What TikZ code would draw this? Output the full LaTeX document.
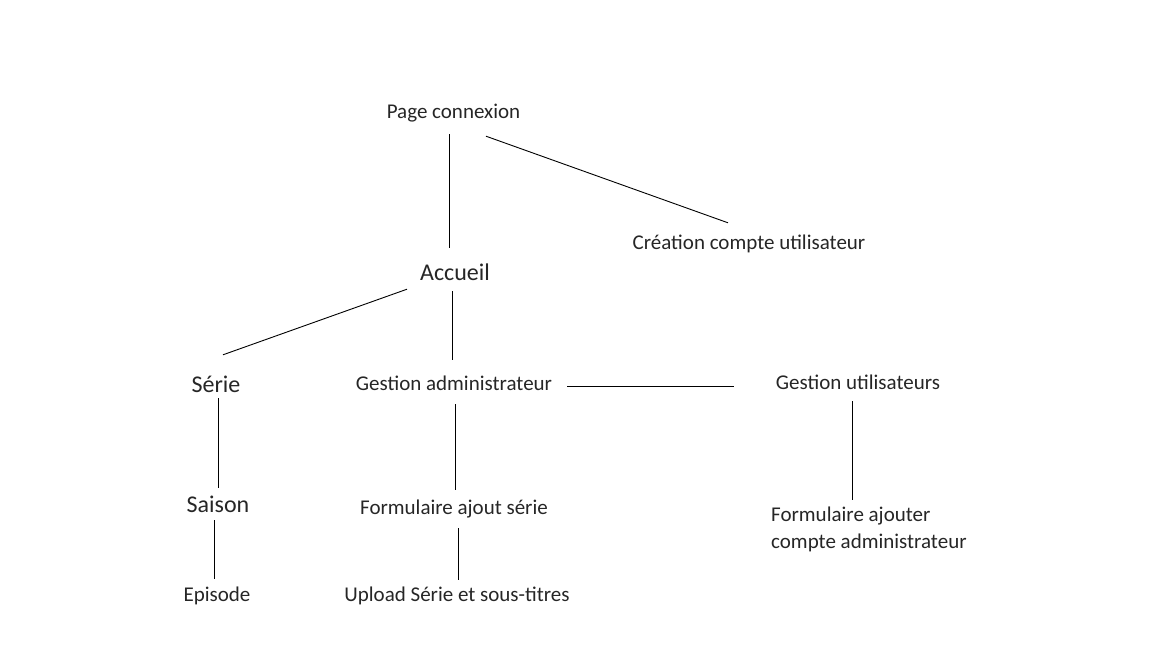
\documentclass[tikz,border=0pt]{standalone}
\usepackage{fontspec}
\setmainfont{Carlito}
\usepackage{tikz}
\usetikzlibrary{positioning,calc}

\tikzset{
    page/.style={inner sep=0pt, text=black!85, font=\fontsize{21}{27}\selectfont, text height=15pt, text depth=5pt},
    bigpage/.style={page, font=\fontsize{24}{29}\selectfont, text height=17pt, text depth=6pt},
    link/.style={line width=0.9pt, black}
}

\begin{document}
\begin{tikzpicture}[x=1pt, y=-1pt]
    \useasboundingbox (0,0) rectangle (1152,648);

    % Top level
    \node[page] (pc) at (453.5,113) {Page connexion};
    \node[page] (cre) at (749,244) {Création compte utilisateur};
    \node[bigpage] (acc) at (455,275) {Accueil};

    % Second level
    \node[bigpage] (ser) at (216,387) {Série};
    \node[page] (gad) at (454,385) {Gestion administrateur};
    \node[page] (gut) at (858,384) {Gestion utilisateurs};

    % Third level
    \node[bigpage] (sai) at (218,507) {Saison};
    \node[page] (fas) at (454,509) {Formulaire ajout série};
    \node[inner sep=0pt, text=black!85, font=\fontsize{21}{27}\selectfont, align=left, anchor=north west] (far) at (771,507) {Formulaire ajouter\\compte administrateur};

    % Bottom level
    \node[page] (epi) at (217,596) {Episode};
    \node[page] (upl) at (457,596) {Upload Série et sous-titres};

    % Links
    \draw[link] ([xshift=-4.5pt,yshift=-11pt]pc.south) -- ([xshift=-6pt,yshift=15.5pt]acc.north);
    \draw[link] ([xshift=32.5pt,yshift=-13pt]pc.south) -- ([xshift=-21pt,yshift=11pt]cre.north);
    \draw[link] ([xshift=-48pt,yshift=-2.5pt]acc.south) -- ([xshift=7pt,yshift=20.5pt]ser.north);
    \draw[link] ([xshift=-3pt,yshift=-4.5pt]acc.south) -- ([xshift=-2pt,yshift=15pt]gad.north);
    \draw[link] ([xshift=15pt,yshift=-1pt]gad.east) -- ([xshift=-42pt,yshift=-2pt]gut.west);
    \draw[link] ([xshift=1pt,yshift=-9pt]gad.south) -- ([xshift=1pt,yshift=9pt]fas.north);
    \draw[link] ([xshift=2pt,yshift=0.5pt]ser.south) -- ([yshift=7.5pt]sai.north);
    \draw[link] ([xshift=-4pt,yshift=-1.5pt]sai.south) -- ([xshift=-3pt,yshift=7pt]epi.north);
    \draw[link] ([xshift=4pt,yshift=-9pt]fas.south) -- ([xshift=1pt,yshift=6pt]upl.north);
    \draw[link] ([xshift=-6pt,yshift=-7pt]gut.south) -- ([xshift=81pt,yshift=7pt]far.north west);
\end{tikzpicture}
\end{document}
